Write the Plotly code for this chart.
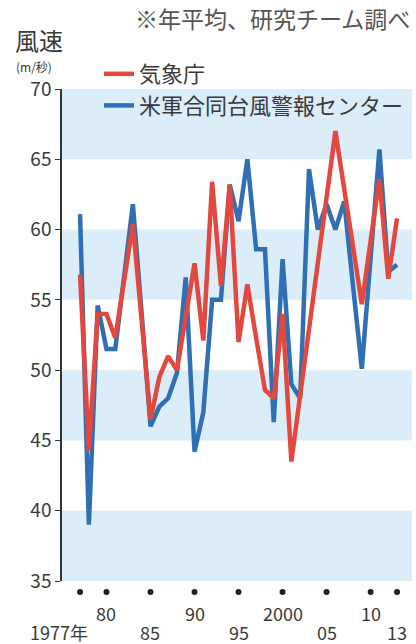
import plotly.graph_objects as go

# Annual mean maximum wind speed of typhoons (m/s)
years = list(range(1977, 2014))
jma = [56.8, 44.3, 54.0, 54.0, 52.3, 56.5, 60.4, 53.5, 46.5, 49.5,
       51.0, 50.0, 53.7, 57.6, 52.1, 63.4, 56.0, 63.2, 52.0, 56.1,
       52.3, 48.6, 48.0, 54.0, 43.5, 48.2, 52.9, 57.6, 62.3, 67.0,
       62.9, 58.8, 54.7, 59.2, 63.6, 56.5, 60.8]
jtwc = [61.1, 39.0, 54.6, 51.5, 51.5, 56.7, 61.8, 54.0, 46.0, 47.4,
        48.0, 49.8, 56.6, 44.2, 47.0, 55.0, 55.0, 63.2, 60.6, 65.0,
        58.6, 58.6, 46.3, 57.9, 49.0, 48.0, 64.3, 60.0, 61.8, 60.0,
        62.0, 56.0, 50.1, 58.0, 65.7, 57.0, 57.5]

series_names = ["気象庁", "米軍合同台風警報センター"]
y_ticks = [35, 40, 45, 50, 55, 60, 65, 70]
band_ranges = [(35, 40), (45, 50), (55, 60), (65, 70)]

x_tick_years = [1977, 1980, 1985, 1990, 1995, 2000, 2005, 2010, 2013]
x_tick_labels = ["1977年", "80", "85", "90", "95", "2000", "05", "10", "13"]
x_tick_rows = [1, 0, 1, 0, 1, 0, 1, 0, 1]

RED = "#e2483d"
BLUE = "#2f6fb4"
BAND = "#dcedfa"
TEXT = "#3a3a3a"
FONT = "Noto Sans CJK JP"

W, H = 416, 644
L, R, T, B = 62, 4, 89, 63
PW, PH = W - L - R, H - T - B


def px(x):
    return (x - L) / PW


def py(y):
    return (H - B - y) / PH


fig = go.Figure()

fig.add_trace(go.Scatter(x=years, y=jtwc, name=series_names[1], mode="lines",
                         line=dict(color=BLUE, width=4.5)))
fig.add_trace(go.Scatter(x=years, y=jma, name=series_names[0], mode="lines",
                         line=dict(color=RED, width=4.5)))

shapes = []
for y0, y1 in band_ranges:
    shapes.append(dict(type="rect", xref="paper", x0=0, x1=1, yref="y", y0=y0, y1=y1,
                       fillcolor=BAND, line=dict(width=0), layer="below"))

# small dots marking the labelled years under the plot
for yr in x_tick_years:
    shapes.append(dict(type="circle", xref="x", yref="paper",
                       xsizemode="pixel", ysizemode="pixel",
                       xanchor=yr, yanchor=0, x0=-3, x1=3, y0=-14, y1=-8,
                       fillcolor="#222", line=dict(width=0)))

annotations = []
for yr, lab, row in zip(x_tick_years, x_tick_labels, x_tick_rows):
    a = dict(x=yr, xref="x", y=0, yref="paper", text=lab, showarrow=False,
             yanchor="middle", yshift=-32 if row == 0 else -51,
             font=dict(family=FONT, size=18, color=TEXT))
    if lab.endswith("年"):
        a.update(xanchor="right", xshift=10)
    annotations.append(a)

annotations += [
    dict(x=px(13), y=py(40), xref="paper", yref="paper", text="風速", showarrow=False,
         xanchor="left", yanchor="middle", font=dict(family=FONT, size=24, color=TEXT)),
    dict(x=px(14), y=py(66), xref="paper", yref="paper", text="(m/秒)", showarrow=False,
         xanchor="left", yanchor="middle", font=dict(family=FONT, size=12, color=TEXT)),
    dict(x=px(133), y=py(18), xref="paper", yref="paper", text="※年平均、研究チーム調べ",
         showarrow=False, xanchor="left", yanchor="middle",
         font=dict(family=FONT, size=23, color="#555")),
]

fig.update_layout(
    width=W, height=H,
    margin=dict(l=L, r=R, t=T, b=B),
    paper_bgcolor="white", plot_bgcolor="white",
    shapes=shapes, annotations=annotations,
    showlegend=True,
    legend=dict(x=px(99), y=py(53), xanchor="left", yanchor="top",
                traceorder="reversed", bgcolor="rgba(0,0,0,0)",
                font=dict(family=FONT, size=22, color=TEXT),
                itemwidth=30, tracegroupgap=0),
    xaxis=dict(range=[1974.95, 2014.7], showticklabels=False, ticks="",
               showgrid=False, zeroline=False, showline=False),
    yaxis=dict(range=[35, 70], tickvals=y_ticks, ticks="outside", ticklen=5,
               tickcolor="#333", tickwidth=1.2, showline=True, linecolor="#333",
               linewidth=1.5, showgrid=False, zeroline=False,
               tickfont=dict(family=FONT, size=19, color=TEXT)),
)

fig.write_html("out.html")
